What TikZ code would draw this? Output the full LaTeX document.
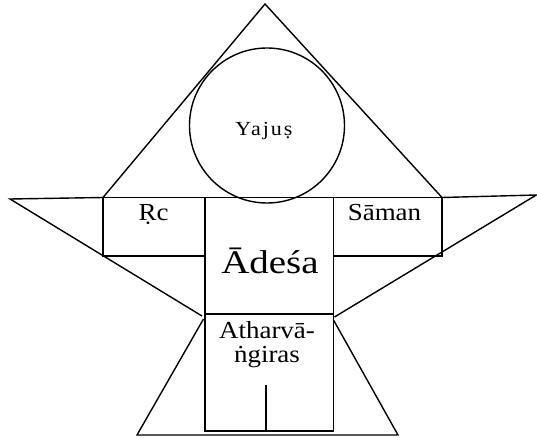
\documentclass[tikz,border=0pt]{standalone}
\usepackage{fontspec}
\setmainfont{Liberation Serif}
\newfontfamily\lblfont[FakeStretch=1.1]{Liberation Serif}
\newfontfamily\bigfont[FakeStretch=1.18]{Liberation Serif}
\newfontfamily\yajfont[FakeStretch=1.1,LetterSpace=10]{Liberation Serif}
\begin{document}
\begin{tikzpicture}[x=1pt,y=-1pt,
  thin line/.style={line width=1.4pt,line join=miter},
  box/.style={line width=1.8pt,line join=miter},
  lbl/.style={anchor=base,inner sep=0pt,font=\lblfont\fontsize{24.5}{28}\selectfont}]
\useasboundingbox (0,0) rectangle (537,438);
% top triangle
\coordinate (apex) at (265,4);
\coordinate (tl) at (103,197.5);
\coordinate (tr) at (442,197.5);
\draw[thin line] (tl) -- (apex) -- (tr);
% circle
\node[draw,circle,line width=1.4pt,minimum size=155pt,inner sep=0pt] (yaj) at (267,125.5) {};
% arms
\coordinate (ltip) at (10,199);
\coordinate (rtip) at (536.3,195);
\coordinate (lend) at (202,316);
\coordinate (rend) at (334.5,317);
\draw[thin line] (tl) -- (ltip) -- (lend);
\draw[thin line] (tr) -- (rtip) -- (rend);
% boxes
\draw[box] (103,197.5) rectangle (205,256);
\draw[box] (205,197.5) rectangle (333.5,314);
\draw[box] (333.5,197.5) rectangle (442,256);
\draw[box] (205,314) rectangle (333.5,431);
\coordinate (stemtop) at (266,385);
\coordinate (stembot) at (266,431);
\draw[thin line] (stemtop) -- (stembot);
% bottom triangle
\coordinate (bl) at (137,435);
\coordinate (br) at (398,435);
\coordinate (blt) at (203.5,319);
\coordinate (brt) at (333.5,320);
\draw[thin line] (blt) -- (bl) -- (br) -- (brt);
% texts
\node[anchor=base,inner sep=0pt,font=\yajfont\fontsize{20}{22}\selectfont] (yajt) at (264,136) {Yajuṣ};
\node[lbl] (rc) at (153.5,220.7) {Ṛc};
\node[lbl] (saman) at (384.5,220.7) {Sāman};
\node[anchor=base,inner sep=0pt,font=\bigfont\fontsize{33}{36}\selectfont] (adesa) at (270,273.3) {Ādeśa};
\node[anchor=base,inner sep=0pt,align=center,font=\lblfont\fontsize{24.5}{24}\selectfont] (ath) at (267,362) {Atharvā-\\ṅgiras};
\end{tikzpicture}
\end{document}
